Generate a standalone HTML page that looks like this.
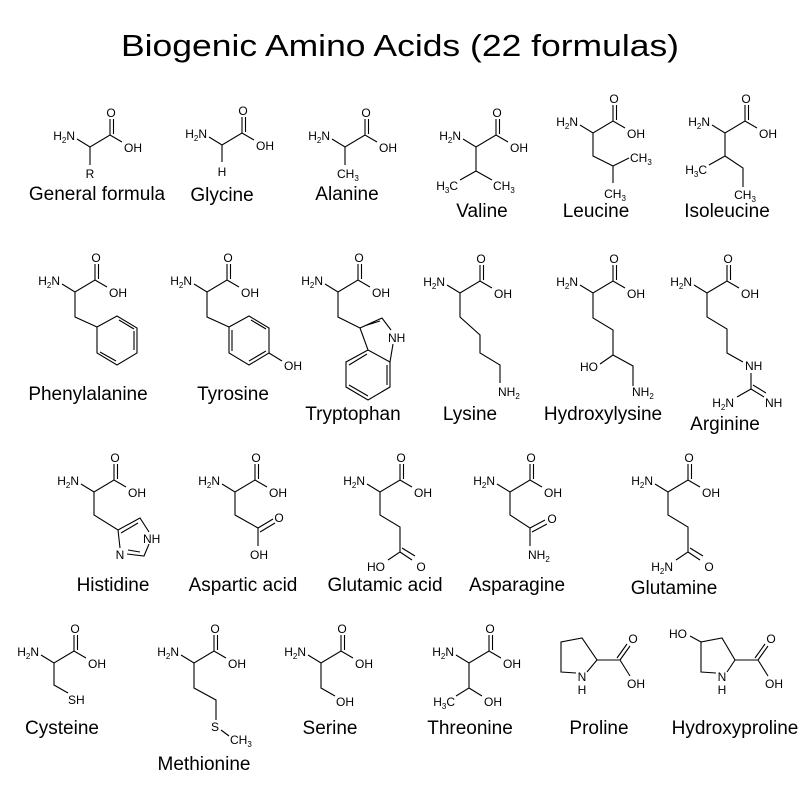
<!DOCTYPE html>
<html><head><meta charset="utf-8"><style>
html,body{margin:0;padding:0;background:#fff}
svg{display:block}
text{font-family:"Liberation Sans",sans-serif;font-size:12px;fill:#000}
.m{text-anchor:middle}.e{text-anchor:end}
.n{font-size:19px;text-anchor:middle}
.s{font-size:8px}
path{fill:none;stroke:#000;stroke-width:1.1}
</style></head><body>
<svg width="800" height="800" viewBox="0 0 800 800" xmlns="http://www.w3.org/2000/svg">
<rect width="800" height="800" fill="#fff"/>
<text x="400" y="56" style="font-size:31px;text-anchor:middle" textLength="558" lengthAdjust="spacingAndGlyphs">Biogenic Amino Acids (22 formulas)</text>

<!-- Row 1 -->
<g transform="translate(90,147)">
<path d="M-13,-8 L0,0 L20,-12 L32,-5 M20,-12 V-28 M23.5,-13 V-28 M0,0 V18"/>
<text x="21" y="-30" class="m">O</text><text x="34" y="5">OH</text>
<text x="-15" y="-7" class="e">H<tspan class="s" dy="3">2</tspan><tspan dy="-3">N</tspan></text>
<text x="0" y="31" class="m">R</text></g>
<text x="97" y="200" class="n">General formula</text>

<g transform="translate(222,145)">
<path d="M-13,-8 L0,0 L20,-12 L32,-5 M20,-12 V-28 M23.5,-13 V-28 M0,0 V17"/>
<text x="21" y="-30" class="m">O</text><text x="34" y="5">OH</text>
<text x="-15" y="-7" class="e">H<tspan class="s" dy="3">2</tspan><tspan dy="-3">N</tspan></text>
<text x="0" y="31" class="m">H</text></g>
<text x="222" y="201" class="n">Glycine</text>

<g transform="translate(345,147)">
<path d="M-13,-8 L0,0 L20,-12 L32,-5 M20,-12 V-28 M23.5,-13 V-28 M0,0 V18"/>
<text x="21" y="-30" class="m">O</text><text x="34" y="5">OH</text>
<text x="-15" y="-7" class="e">H<tspan class="s" dy="3">2</tspan><tspan dy="-3">N</tspan></text>
<text x="-8" y="31">CH<tspan class="s" dy="3">3</tspan></text></g>
<text x="347" y="200" class="n">Alanine</text>

<g transform="translate(476,147)">
<path d="M-13,-8 L0,0 L20,-12 L32,-5 M20,-12 V-28 M23.5,-13 V-28 M0,0 V24 L-16,33 M0,24 L16,33"/>
<text x="21" y="-30" class="m">O</text><text x="34" y="5">OH</text>
<text x="-15" y="-7" class="e">H<tspan class="s" dy="3">2</tspan><tspan dy="-3">N</tspan></text>
<text x="-18" y="43" class="e">H<tspan class="s" dy="3">3</tspan><tspan dy="-3">C</tspan></text>
<text x="17" y="43">CH<tspan class="s" dy="3">3</tspan></text></g>
<text x="482" y="217" class="n">Valine</text>

<g transform="translate(593,133)">
<path d="M-13,-8 L0,0 L20,-12 L32,-5 M20,-12 V-28 M23.5,-13 V-28 M0,0 V23 L20,33 L36,25 M20,33 V50"/>
<text x="21" y="-30" class="m">O</text><text x="34" y="5">OH</text>
<text x="-15" y="-7" class="e">H<tspan class="s" dy="3">2</tspan><tspan dy="-3">N</tspan></text>
<text x="37" y="29">CH<tspan class="s" dy="3">3</tspan></text>
<text x="22" y="65" class="m">CH<tspan class="s" dy="3">3</tspan></text></g>
<text x="596" y="217" class="n">Leucine</text>

<g transform="translate(725,133)">
<path d="M-13,-8 L0,0 L20,-12 L32,-5 M20,-12 V-28 M23.5,-13 V-28 M0,0 V23 L-16,32 M0,23 L18,35 V54"/>
<text x="21" y="-30" class="m">O</text><text x="34" y="5">OH</text>
<text x="-15" y="-7" class="e">H<tspan class="s" dy="3">2</tspan><tspan dy="-3">N</tspan></text>
<text x="-18" y="41" class="e">H<tspan class="s" dy="3">3</tspan><tspan dy="-3">C</tspan></text>
<text x="20" y="66" class="m">CH<tspan class="s" dy="3">3</tspan></text></g>
<text x="727" y="217" class="n">Isoleucine</text>

<!-- Row 2 -->
<g transform="translate(75,292)">
<path d="M-13,-8 L0,0 L20,-12 L32,-5 M20,-12 V-28 M23.5,-13 V-28 M0,0 V25 L22,35"/>
<text x="21" y="-30" class="m">O</text><text x="34" y="5">OH</text>
<text x="-15" y="-7" class="e">H<tspan class="s" dy="3">2</tspan><tspan dy="-3">N</tspan></text></g>
<path d="M97,327 L117,316 L137,328 L137,353 L117,365 L97,353 Z M119,320 L134,329 M134,331 V350 M116,361 L100,352"/>
<text x="88" y="400" class="n">Phenylalanine</text>

<g transform="translate(207,292)">
<path d="M-13,-8 L0,0 L20,-12 L32,-5 M20,-12 V-28 M23.5,-13 V-28 M0,0 V25 L22,35"/>
<text x="21" y="-30" class="m">O</text><text x="34" y="5">OH</text>
<text x="-15" y="-7" class="e">H<tspan class="s" dy="3">2</tspan><tspan dy="-3">N</tspan></text></g>
<path d="M229,327 L249,316 L269,328 L269,353 L249,365 L229,353 Z M251,320 L266,329 M266,351 L249,361 M232,351 V330 M269,353 L282,361"/>
<text x="284" y="370">OH</text>
<text x="233" y="400" class="n">Tyrosine</text>

<g transform="translate(338,292)">
<path d="M-13,-8 L0,0 L20,-12 L32,-5 M20,-12 V-28 M23.5,-13 V-28 M0,0 V25 L22,36"/>
<text x="21" y="-30" class="m">O</text><text x="34" y="5">OH</text>
<text x="-15" y="-7" class="e">H<tspan class="s" dy="3">2</tspan><tspan dy="-3">N</tspan></text></g>
<path d="M360,328 L382,318 L391,330 M393,344 L390,362 L368,350 L360,328 M364,326 L380,321 M368,350 L346,362 V387 L368,400 L390,387 V362 M349,365 L367,354 M349,385 L368,396 M387,385 V365"/>
<text x="388" y="342">NH</text>
<text x="353" y="420" class="n">Tryptophan</text>

<g transform="translate(460,293)">
<path d="M-13,-8 L0,0 L20,-12 L32,-5 M20,-12 V-28 M23.5,-13 V-28 M0,0 V24 L20,42 V60 L40,72 V90"/>
<text x="21" y="-30" class="m">O</text><text x="34" y="5">OH</text>
<text x="-15" y="-7" class="e">H<tspan class="s" dy="3">2</tspan><tspan dy="-3">N</tspan></text>
<text x="38" y="103">NH<tspan class="s" dy="3">2</tspan></text></g>
<text x="470" y="420" class="n">Lysine</text>

<g transform="translate(593,293)">
<path d="M-13,-8 L0,0 L20,-12 L32,-5 M20,-12 V-28 M23.5,-13 V-28 M0,0 V25 L20,37 V62 L40,73 V93 M20,62 L7,71"/>
<text x="21" y="-30" class="m">O</text><text x="34" y="5">OH</text>
<text x="-15" y="-7" class="e">H<tspan class="s" dy="3">2</tspan><tspan dy="-3">N</tspan></text>
<text x="5" y="78" class="e">HO</text>
<text x="39" y="103">NH<tspan class="s" dy="3">2</tspan></text></g>
<text x="603" y="420" class="n">Hydroxylysine</text>

<g transform="translate(707,293)">
<path d="M-13,-8 L0,0 L20,-12 L32,-5 M20,-12 V-28 M23.5,-13 V-28 M0,0 V24 L20,36 V60 L36,69 M44,80 V96 L30,104 M44,96 L57,104 M46,92 L59,100"/>
<text x="21" y="-30" class="m">O</text><text x="34" y="5">OH</text>
<text x="-15" y="-7" class="e">H<tspan class="s" dy="3">2</tspan><tspan dy="-3">N</tspan></text>
<text x="38" y="77">NH</text>
<text x="27" y="114" class="e">H<tspan class="s" dy="3">2</tspan><tspan dy="-3">N</tspan></text>
<text x="58" y="114">NH</text></g>
<text x="725" y="430" class="n">Arginine</text>

<!-- Row 3 -->
<g transform="translate(94,492)">
<path d="M-13,-8 L0,0 L20,-12 L32,-5 M20,-12 V-28 M23.5,-13 V-28 M0,0 V23 L24,38 L46,26 L55,40 M55,52 L50,64 L33,62 M26,56 L24,38 M27,41 L44,31 M46,60 L34,58"/>
<text x="21" y="-30" class="m">O</text><text x="34" y="5">OH</text>
<text x="-15" y="-7" class="e">H<tspan class="s" dy="3">2</tspan><tspan dy="-3">N</tspan></text>
<text x="49" y="51">NH</text>
<text x="26" y="67" class="m">N</text></g>
<text x="113" y="591" class="n">Histidine</text>

<g transform="translate(235,492)">
<path d="M-13,-8 L0,0 L20,-12 L32,-5 M20,-12 V-28 M23.5,-13 V-28 M0,0 V23 L23,36 V54 M23,36 L38,27 M25,40 L40,31"/>
<text x="21" y="-30" class="m">O</text><text x="34" y="5">OH</text>
<text x="-15" y="-7" class="e">H<tspan class="s" dy="3">2</tspan><tspan dy="-3">N</tspan></text>
<text x="44" y="30" class="m">O</text>
<text x="24" y="67" class="m">OH</text></g>
<text x="243" y="591" class="n">Aspartic acid</text>

<g transform="translate(380,492)">
<path d="M-13,-8 L0,0 L20,-12 L32,-5 M20,-12 V-28 M23.5,-13 V-28 M0,0 V23 L20,35 V60 L8,68 M20,60 L32,68 M22,56 L35,64"/>
<text x="21" y="-30" class="m">O</text><text x="34" y="5">OH</text>
<text x="-15" y="-7" class="e">H<tspan class="s" dy="3">2</tspan><tspan dy="-3">N</tspan></text>
<text x="-4" y="79" class="m">HO</text>
<text x="41" y="79" class="m">O</text></g>
<text x="385" y="591" class="n">Glutamic acid</text>

<g transform="translate(510,492)">
<path d="M-13,-8 L0,0 L20,-12 L32,-5 M20,-12 V-28 M23.5,-13 V-28 M0,0 V23 L20,36 V54 M20,36 L35,28 M22,40 L37,32"/>
<text x="21" y="-30" class="m">O</text><text x="34" y="5">OH</text>
<text x="-15" y="-7" class="e">H<tspan class="s" dy="3">2</tspan><tspan dy="-3">N</tspan></text>
<text x="42" y="31" class="m">O</text>
<text x="18" y="67">NH<tspan class="s" dy="3">2</tspan></text></g>
<text x="517" y="591" class="n">Asparagine</text>

<g transform="translate(668,492)">
<path d="M-13,-8 L0,0 L20,-12 L32,-5 M20,-12 V-28 M23.5,-13 V-28 M0,0 V23 L20,35 V60 L8,68 M20,60 L32,68 M22,56 L35,64"/>
<text x="21" y="-30" class="m">O</text><text x="34" y="5">OH</text>
<text x="-15" y="-7" class="e">H<tspan class="s" dy="3">2</tspan><tspan dy="-3">N</tspan></text>
<text x="5" y="79" class="e">H<tspan class="s" dy="3">2</tspan><tspan dy="-3">N</tspan></text>
<text x="41" y="79" class="m">O</text></g>
<text x="674" y="594" class="n">Glutamine</text>

<!-- Row 4 -->
<g transform="translate(54,663)">
<path d="M-13,-8 L0,0 L20,-12 L32,-5 M20,-12 V-28 M23.5,-13 V-28 M0,0 V22 L14,30"/>
<text x="21" y="-30" class="m">O</text><text x="34" y="5">OH</text>
<text x="-15" y="-7" class="e">H<tspan class="s" dy="3">2</tspan><tspan dy="-3">N</tspan></text>
<text x="14" y="41">SH</text></g>
<text x="62" y="734" class="n">Cysteine</text>

<g transform="translate(194,663)">
<path d="M-13,-8 L0,0 L20,-12 L32,-5 M20,-12 V-28 M23.5,-13 V-28 M0,0 V25 L22,37 V57 M27,67 L35,73"/>
<text x="21" y="-30" class="m">O</text><text x="34" y="5">OH</text>
<text x="-15" y="-7" class="e">H<tspan class="s" dy="3">2</tspan><tspan dy="-3">N</tspan></text>
<text x="21" y="68" class="m">S</text>
<text x="36" y="81">CH<tspan class="s" dy="3">3</tspan></text></g>
<text x="204" y="770" class="n">Methionine</text>

<g transform="translate(321,663)">
<path d="M-13,-8 L0,0 L20,-12 L32,-5 M20,-12 V-28 M23.5,-13 V-28 M0,0 V25 L14,33"/>
<text x="21" y="-30" class="m">O</text><text x="34" y="5">OH</text>
<text x="-15" y="-7" class="e">H<tspan class="s" dy="3">2</tspan><tspan dy="-3">N</tspan></text>
<text x="15" y="43">OH</text></g>
<text x="330" y="734" class="n">Serine</text>

<g transform="translate(469,663)">
<path d="M-13,-8 L0,0 L20,-12 L32,-5 M20,-12 V-28 M23.5,-13 V-28 M0,0 V25 L-13,33 M0,25 L13,33"/>
<text x="21" y="-30" class="m">O</text><text x="34" y="5">OH</text>
<text x="-15" y="-7" class="e">H<tspan class="s" dy="3">2</tspan><tspan dy="-3">N</tspan></text>
<text x="-14" y="43" class="e">H<tspan class="s" dy="3">3</tspan><tspan dy="-3">C</tspan></text>
<text x="15" y="43">OH</text></g>
<text x="470" y="734" class="n">Threonine</text>

<path d="M576,673 L561,672 V642 L582,638 L597,660 L587,672 M597,660 H620 L630,676 M620,660 L630,646 M617,658 L627,644"/>
<text x="582" y="681" class="m">N</text><text x="582" y="694" class="m">H</text>
<text x="633" y="643" class="m">O</text><text x="636" y="688" class="m">OH</text>
<text x="599" y="734" class="n">Proline</text>

<path d="M716,673 L701,672 V642 L722,638 L735,660 L727,672 M735,660 H758 L768,676 M758,660 L768,646 M755,658 L765,644 M701,642 L690,636"/>
<text x="722" y="681" class="m">N</text><text x="722" y="694" class="m">H</text>
<text x="687" y="638" class="e">HO</text>
<text x="771" y="643" class="m">O</text><text x="774" y="688" class="m">OH</text>
<text x="735" y="734" class="n">Hydroxyproline</text>
</svg>
</body></html>
